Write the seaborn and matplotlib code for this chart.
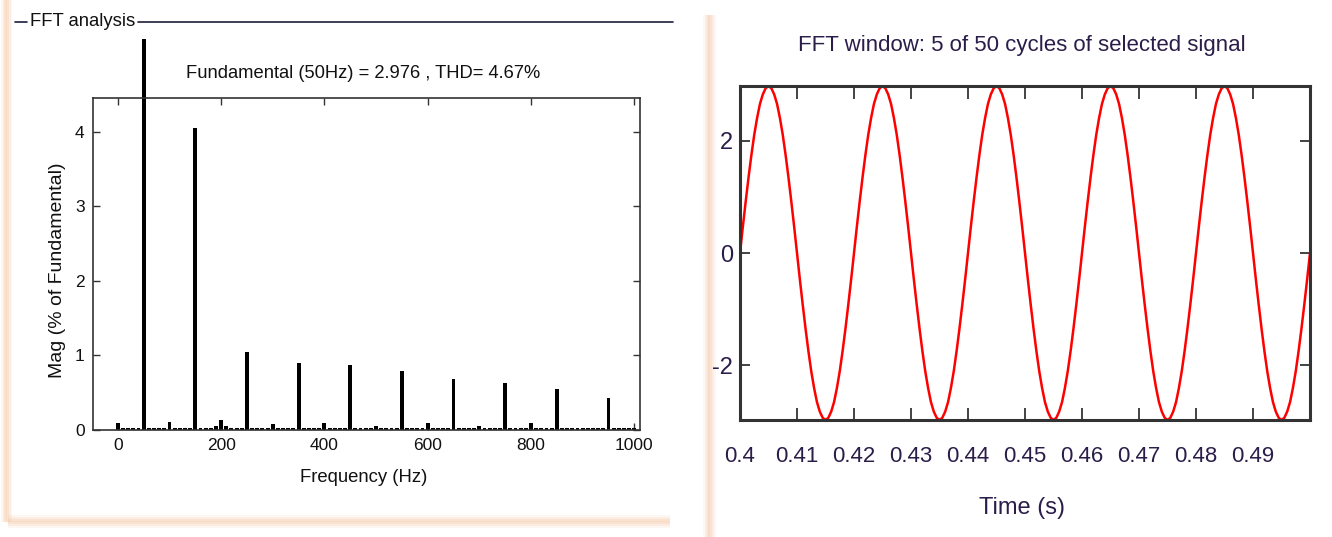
import numpy as np
import pandas as pd
import matplotlib
matplotlib.use("Agg")
import matplotlib.pyplot as plt
import seaborn as sns
from matplotlib.patches import Rectangle
from matplotlib.lines import Line2D

# ---------------- data ----------------
freq_hz = list(range(0, 1001, 10))
mag_pct = [
    0.10, 0.03, 0.03, 0.03, 0.03, 5.25, 0.03, 0.03, 0.03, 0.03,   # 0-90
    0.11, 0.03, 0.03, 0.03, 0.03, 4.05, 0.03, 0.03, 0.03, 0.06,   # 100-190
    0.13, 0.05, 0.03, 0.03, 0.03, 1.04, 0.03, 0.03, 0.03, 0.03,   # 200-290
    0.08, 0.03, 0.03, 0.03, 0.03, 0.90, 0.03, 0.03, 0.03, 0.03,   # 300-390
    0.10, 0.03, 0.03, 0.03, 0.03, 0.87, 0.03, 0.03, 0.03, 0.03,   # 400-490
    0.06, 0.03, 0.03, 0.03, 0.03, 0.79, 0.03, 0.03, 0.03, 0.03,   # 500-590
    0.10, 0.03, 0.03, 0.03, 0.03, 0.68, 0.03, 0.03, 0.03, 0.03,   # 600-690
    0.06, 0.03, 0.03, 0.03, 0.03, 0.63, 0.03, 0.03, 0.03, 0.03,   # 700-790
    0.10, 0.03, 0.03, 0.03, 0.03, 0.55, 0.03, 0.03, 0.03, 0.03,   # 800-890
    0.03, 0.03, 0.03, 0.03, 0.03, 0.43, 0.03, 0.03, 0.03, 0.03,   # 900-990
    0.03,                                                         # 1000
]
freq_ticks = [0, 200, 400, 600, 800, 1000]
mag_ticks = [0, 1, 2, 3, 4]

t_start = 0.4
t_step = 0.0005
signal = [
    0.00, 0.47, 0.92, 1.35, 1.75, 2.11, 2.41, 2.66, 2.83, 2.94, 2.98, 2.94, 2.83, 2.66, 2.41, 2.11, 1.75, 1.35, 0.92, 0.47,
    0.00, -0.47, -0.92, -1.35, -1.75, -2.11, -2.41, -2.66, -2.83, -2.94, -2.98, -2.94, -2.83, -2.66, -2.41, -2.11, -1.75, -1.35, -0.92, -0.47,
    0.00, 0.47, 0.92, 1.35, 1.75, 2.11, 2.41, 2.66, 2.83, 2.94, 2.98, 2.94, 2.83, 2.66, 2.41, 2.11, 1.75, 1.35, 0.92, 0.47,
    0.00, -0.47, -0.92, -1.35, -1.75, -2.11, -2.41, -2.66, -2.83, -2.94, -2.98, -2.94, -2.83, -2.66, -2.41, -2.11, -1.75, -1.35, -0.92, -0.47,
    0.00, 0.47, 0.92, 1.35, 1.75, 2.11, 2.41, 2.66, 2.83, 2.94, 2.98, 2.94, 2.83, 2.66, 2.41, 2.11, 1.75, 1.35, 0.92, 0.47,
    0.00, -0.47, -0.92, -1.35, -1.75, -2.11, -2.41, -2.66, -2.83, -2.94, -2.98, -2.94, -2.83, -2.66, -2.41, -2.11, -1.75, -1.35, -0.92, -0.47,
    0.00, 0.47, 0.92, 1.35, 1.75, 2.11, 2.41, 2.66, 2.83, 2.94, 2.98, 2.94, 2.83, 2.66, 2.41, 2.11, 1.75, 1.35, 0.92, 0.47,
    0.00, -0.47, -0.92, -1.35, -1.75, -2.11, -2.41, -2.66, -2.83, -2.94, -2.98, -2.94, -2.83, -2.66, -2.41, -2.11, -1.75, -1.35, -0.92, -0.47,
    0.00, 0.47, 0.92, 1.35, 1.75, 2.11, 2.41, 2.66, 2.83, 2.94, 2.98, 2.94, 2.83, 2.66, 2.41, 2.11, 1.75, 1.35, 0.92, 0.47,
    0.00, -0.47, -0.92, -1.35, -1.75, -2.11, -2.41, -2.66, -2.83, -2.94, -2.98, -2.94, -2.83, -2.66, -2.41, -2.11, -1.75, -1.35, -0.92, -0.47,
    0.00,
]
time_ticks = [0.40, 0.41, 0.42, 0.43, 0.44, 0.45, 0.46, 0.47, 0.48, 0.49]
time_labels = ["0.4", "0.41", "0.42", "0.43", "0.44", "0.45", "0.46", "0.47", "0.48", "0.49"]
volt_ticks = [-2, 0, 2]

left_title = "FFT analysis"
left_header = "Fundamental (50Hz) = 2.976 , THD= 4.67%"
right_title = "FFT window: 5 of 50 cycles of selected signal"

# ---------------- style ----------------
sns.set_style("white")
FONT = ["Liberation Sans Narrow", "Liberation Sans", "DejaVu Sans"]
plt.rcParams["font.family"] = FONT
plt.rcParams["axes.unicode_minus"] = False

W, H = 1332, 537
fig = plt.figure(figsize=(W / 100, H / 100), dpi=100)
fig.patch.set_facecolor("white")

def fx(px):
    return px / W

def fy(py):
    return 1 - py / H

# decorative panel shadows
peach = "#f5c6a3"
for i, a in enumerate([0.15, 0.3, 0.5, 0.6, 0.5, 0.3, 0.15]):
    fig.add_artist(Rectangle((fx(1 + 1.6 * i), fy(522)), fx(1.6), 522 / H,
                             transform=fig.transFigure, color=peach, alpha=a, lw=0, zorder=0))
    fig.add_artist(Rectangle((fx(8), fy(517 + 1.8 * i)), fx(662), 1.8 / H,
                             transform=fig.transFigure, color=peach, alpha=a, lw=0, zorder=0))
    fig.add_artist(Rectangle((fx(703 + 1.8 * i), fy(537)), fx(1.8), 522 / H,
                             transform=fig.transFigure, color=peach, alpha=a, lw=0, zorder=0))

# ---------------- left: FFT spectrum ----------------
axL = fig.add_axes([fx(93), fy(430), fx(640 - 93), (430 - 98) / H])
df = pd.DataFrame({"freq": freq_hz, "mag": mag_pct})
sns.barplot(data=df, x="freq", y="mag", native_scale=True, color="black",
            width=0.75, saturation=1, edgecolor="none", ax=axL)
for p in axL.patches:
    p.set_clip_on(False)
axL.set_xlim(-48, 1011)
axL.set_ylim(0, 4.455)
axL.set_xticks(freq_ticks)
axL.set_yticks(mag_ticks)
axL.set_xlabel("")
axL.set_ylabel("")
for s in axL.spines.values():
    s.set_visible(True)
    s.set_color("#333333")
    s.set_linewidth(1.2)
axL.tick_params(direction="in", length=5, width=1, color="#333333",
                top=True, right=True, bottom=True, left=True,
                labelsize=12.5, labelcolor="#111111", pad=6)
fig.text(fx(57), fy(270), "Mag (% of Fundamental)", rotation=90, ha="center", va="center",
         fontsize=14, color="#111111")
fig.text(fx(364), fy(477), "Frequency (Hz)", ha="center", va="center", fontsize=13.3, color="#111111")
fig.text(fx(363), fy(73), left_header, ha="center", va="center", fontsize=13.2, color="#111111")

# group box header
fig.add_artist(Line2D([fx(15), fx(27)], [fy(22), fy(22)], color="#1c1c3a", lw=1.2))
fig.add_artist(Line2D([fx(138), fx(673)], [fy(22), fy(22)], color="#1c1c3a", lw=1.2))
fig.text(fx(30), fy(22), left_title, ha="left", va="center", fontsize=13.3, color="#111111")

# ---------------- right: time signal ----------------
axR = fig.add_axes([fx(740), fy(420), fx(1310 - 740), (420 - 86) / H])
t = t_start + t_step * np.arange(len(signal))
dfs = pd.DataFrame({"t": t, "v": signal})
sns.lineplot(data=dfs, x="t", y="v", color="red", linewidth=1.8, ax=axR)
axR.set_xlim(0.4, 0.5)
axR.set_ylim(min(signal), max(signal))
axR.set_xticks(time_ticks)
axR.set_xticklabels(time_labels)
axR.set_yticks(volt_ticks)
axR.set_xlabel("")
axR.set_ylabel("")
for s in axR.spines.values():
    s.set_visible(True)
    s.set_color("#333333")
    s.set_linewidth(2.2)
txtc = "#2b1d4a"
axR.tick_params(axis="x", direction="in", length=9, width=1.2, color="#222222",
                top=True, bottom=True, labelsize=16, labelcolor=txtc, pad=19)
axR.tick_params(axis="y", direction="in", length=7, width=1.2, color="#222222",
                left=True, right=True, labelsize=17, labelcolor=txtc, pad=5)
fig.text(fx(1022), fy(45), right_title, ha="center", va="center", fontsize=16, color=txtc)
fig.text(fx(1022), fy(508), "Time (s)", ha="center", va="center", fontsize=17, color=txtc)

fig.savefig("out.png", dpi=100, facecolor="white")
